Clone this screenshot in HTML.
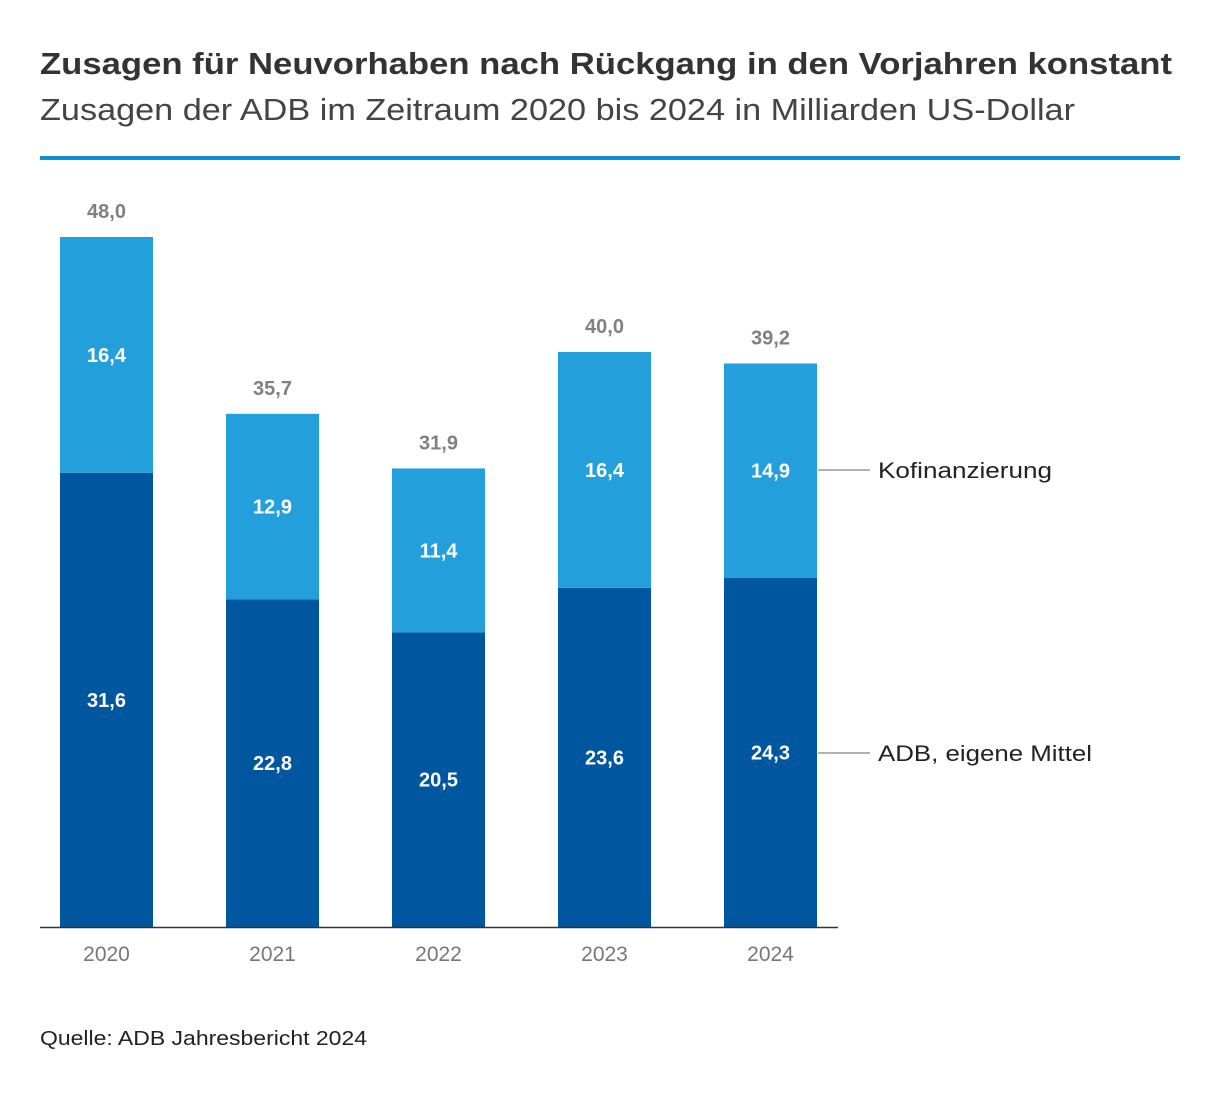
<!DOCTYPE html>
<html><head><meta charset="utf-8"><style>
body{margin:0;background:#fff;font-family:"Liberation Sans",sans-serif;}
</style></head><body>
<svg width="1220" height="1094" xmlns="http://www.w3.org/2000/svg">
<text x="40" y="74" font-size="31" font-weight="bold" fill="#333" textLength="1132" lengthAdjust="spacingAndGlyphs">Zusagen für Neuvorhaben nach Rückgang in den Vorjahren konstant</text>
<text x="40" y="120" font-size="31" fill="#444" textLength="1035" lengthAdjust="spacingAndGlyphs">Zusagen der ADB im Zeitraum 2020 bis 2024 in Milliarden US-Dollar</text>
<rect x="40" y="156" width="1140" height="4" fill="#0a8fd6"/>
<g id="bars"></g>
<line x1="40" y1="927.5" x2="838" y2="927.5" stroke="#333" stroke-width="1.5"/>
<line x1="818" y1="470" x2="870" y2="470" stroke="#999" stroke-width="1.5"/>
<text x="878" y="478" font-size="22" fill="#222" textLength="174" lengthAdjust="spacingAndGlyphs">Kofinanzierung</text>
<line x1="818" y1="753" x2="870" y2="753" stroke="#999" stroke-width="1.5"/>
<text x="878" y="761" font-size="22" fill="#222" textLength="214" lengthAdjust="spacingAndGlyphs">ADB, eigene Mittel</text>
<text x="40" y="1045" font-size="20" fill="#222" textLength="327" lengthAdjust="spacingAndGlyphs">Quelle: ADB Jahresbericht 2024</text>
</svg>
<script>
const years=["2020","2021","2022","2023","2024"];
const adb=[31.6,22.8,20.5,23.6,24.3];
const kofi=[16.4,12.9,11.4,16.4,14.9];
const totals=[48.0,35.7,31.9,40.0,39.2];
const base=927, scale=690/48, x0=60, step=166, bw=93;
const y=v=>base-v*scale;
const fmt=v=>v.toFixed(1).replace('.',',');
const g=document.getElementById('bars');
const NS="http://www.w3.org/2000/svg";
function mk(tag,attrs,txt){const e=document.createElementNS(NS,tag);for(const k in attrs)e.setAttribute(k,attrs[k]);if(txt!==undefined)e.textContent=txt;g.appendChild(e);return e;}
years.forEach((yr,i)=>{
  const x=x0+i*step, cx=x+bw/2;
  const yA=y(adb[i]), yT=y(adb[i]+kofi[i]);
  let r=mk('rect',{x:x,y:yA,width:bw,height:base-yA,fill:'#0057a0'});
  
  
  r=mk('rect',{x:x,y:yT,width:bw,height:yA-yT,fill:'#23a0dc'});
  
  
  let t=mk('text',{x:cx,y:(yA+base)/2+7,'font-size':20,'font-weight':'bold',fill:'#fff','text-anchor':'middle'},fmt(adb[i]));
  
  
  t=mk('text',{x:cx,y:(yT+yA)/2+7,'font-size':20,'font-weight':'bold',fill:'#fff','text-anchor':'middle'},fmt(kofi[i]));
  
  
  t=mk('text',{x:cx,y:y(totals[i])-19,'font-size':20,'font-weight':'bold',fill:'#808080','text-anchor':'middle'},fmt(totals[i]));
  
  
  t=mk('text',{x:cx,y:961,'font-size':21,fill:'#777','text-anchor':'middle'},yr);
  
  
});
</script>
</body></html>
